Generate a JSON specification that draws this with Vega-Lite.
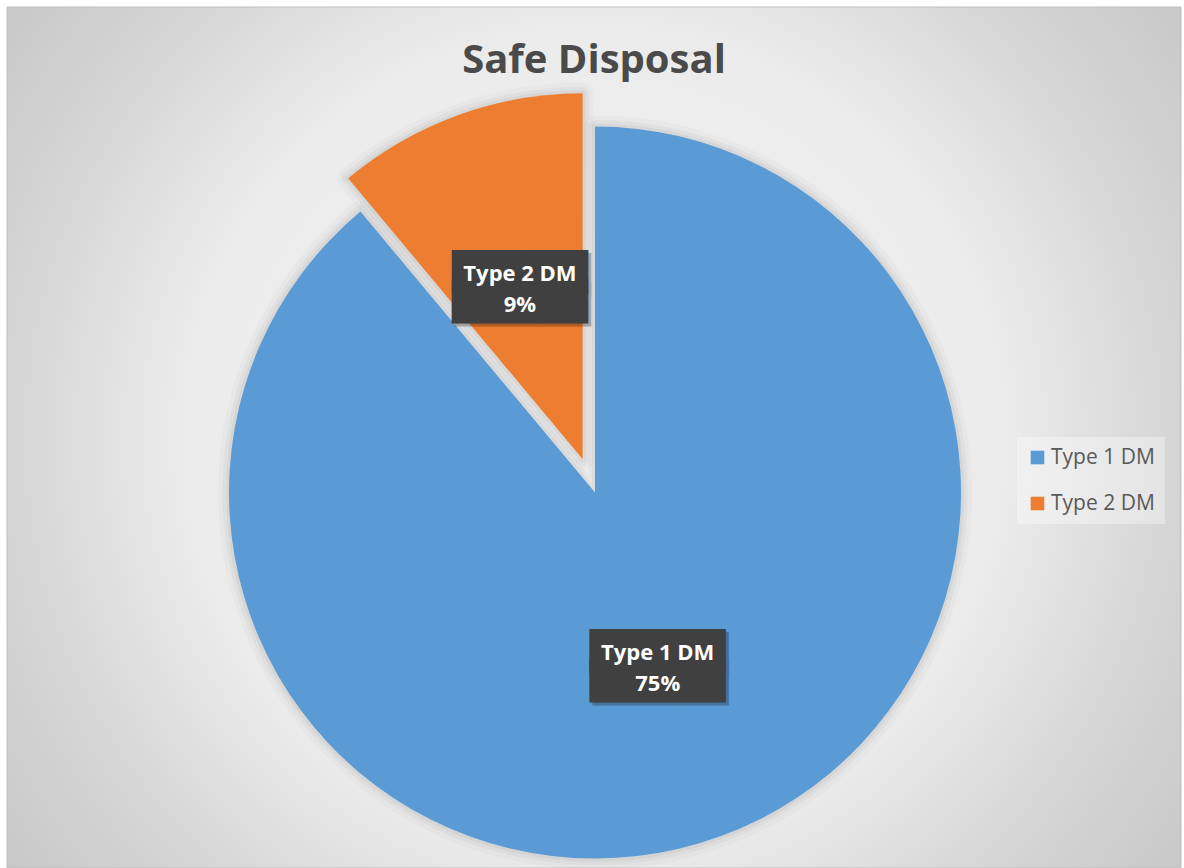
{
  "$schema": "https://vega.github.io/schema/vega-lite/v6.json",
  "width": 1174,
  "height": 861,
  "autosize": "none",
  "padding": {"left": 7, "top": 7, "right": 3, "bottom": 0},
  "background": "#ffffff",
  "config": {"view": {"stroke": null}},
  "title": {
    "text": "Safe Disposal",
    "font": "Open Sans",
    "fontSize": 40,
    "fontWeight": "bold",
    "color": "#4a4a4a",
    "anchor": "middle",
    "baseline": "alphabetic",
    "offset": -66,
    "dy": 40
  },
  "data": {
    "values": [
      {"type": "Type 1 DM", "value": 0.747},
      {"type": "Type 2 DM", "value": 0.093}
    ]
  },
  "transform": [{"calculate": "format(datum.value, '.0%')", "as": "pct"}],
  "layer": [
    {
      "data": {"values": [{}]},
      "transform": [],
      "mark": {
        "type": "rect",
        "color": {
          "gradient": "radial",
          "x1": 0.5, "y1": 0.5, "r1": 0,
          "x2": 0.5, "y2": 0.5, "r2": 0.62,
          "stops": [
            {"offset": 0, "color": "#f3f3f3"},
            {"offset": 0.566, "color": "#ebebeb"},
            {"offset": 0.8, "color": "#d5d5d5"},
            {"offset": 1, "color": "#c8c8c8"}
          ]
        },
        "stroke": "#bfbfbf",
        "strokeWidth": 1
      },
      "encoding": {}
    },
    {
      "mark": {
        "type": "arc", "radius": 366, "fillOpacity": 0, "stroke": "#000000", "strokeOpacity": 0.02, "strokeWidth": 22, "strokeJoin": "round",
        "xOffset": {"expr": "datum.type === 'Type 2 DM' ? -11.3 : 1"},
        "yOffset": {"expr": "datum.type === 'Type 2 DM' ? 21.8 : 55"}
      },
      "encoding": {
        "theta": {"field": "value", "type": "quantitative", "stack": true},
        "order": {"field": "type", "type": "ordinal"},
        "detail": {"field": "type", "type": "nominal"}
      }
    },
    {
      "mark": {
        "type": "arc", "radius": 366, "fillOpacity": 0, "stroke": "#000000", "strokeOpacity": 0.03, "strokeWidth": 13, "strokeJoin": "round",
        "xOffset": {"expr": "datum.type === 'Type 2 DM' ? -11.3 : 1"},
        "yOffset": {"expr": "datum.type === 'Type 2 DM' ? 21.8 : 55"}
      },
      "encoding": {
        "theta": {"field": "value", "type": "quantitative", "stack": true},
        "order": {"field": "type", "type": "ordinal"},
        "detail": {"field": "type", "type": "nominal"}
      }
    },
    {
      "mark": {
        "type": "arc", "radius": 366, "fillOpacity": 0, "stroke": "#000000", "strokeOpacity": 0.04, "strokeWidth": 6, "strokeJoin": "round",
        "xOffset": {"expr": "datum.type === 'Type 2 DM' ? -11.3 : 1"},
        "yOffset": {"expr": "datum.type === 'Type 2 DM' ? 21.8 : 55"}
      },
      "encoding": {
        "theta": {"field": "value", "type": "quantitative", "stack": true},
        "order": {"field": "type", "type": "ordinal"},
        "detail": {"field": "type", "type": "nominal"}
      }
    },
    {
      "mark": {
        "type": "arc", "radius": 366,
        "xOffset": {"expr": "datum.type === 'Type 2 DM' ? -11.3 : 1"},
        "yOffset": {"expr": "datum.type === 'Type 2 DM' ? 21.8 : 55"}
      },
      "encoding": {
        "theta": {"field": "value", "type": "quantitative", "stack": true},
        "order": {"field": "type", "type": "ordinal"},
        "color": {
          "field": "type", "type": "nominal",
          "scale": {"domain": ["Type 1 DM", "Type 2 DM"], "range": ["#5b9bd5", "#ed7d31"]},
          "legend": {
            "orient": "none", "legendX": 1010, "legendY": 430, "title": null,
            "symbolType": "square", "symbolSize": 185, "symbolStrokeWidth": 0,
            "labelFontSize": 21, "labelFont": "Open Sans", "labelColor": "#595959",
            "padding": 10, "rowPadding": 24, "labelOffset": 3,
            "fillColor": "rgba(255,255,255,0.35)"
          }
        }
      }
    },
    {
      "mark": {
        "type": "text", "radius": 184, "text": ["██████", "██████"], "font": "DejaVu Sans Mono", "fontSize": 37.6, "lineHeight": 29.2,
        "align": "center", "baseline": "middle", "color": "#000000", "opacity": 0.25, "dx": 3, "dy": -9.5,
        "xOffset": {"expr": "datum.type === 'Type 2 DM' ? -11.3 : 1"},
        "yOffset": {"expr": "datum.type === 'Type 2 DM' ? 21.8 : 55"}
      },
      "encoding": {
        "theta": {"field": "value", "type": "quantitative", "stack": true},
        "order": {"field": "type", "type": "ordinal"},
        "detail": {"field": "type", "type": "nominal"}
      }
    },
    {
      "mark": {
        "type": "text", "radius": 184, "text": ["██████", "██████"], "font": "DejaVu Sans Mono", "fontSize": 37.6, "lineHeight": 29.2,
        "align": "center", "baseline": "middle", "color": "#404040", "dy": -12.5,
        "xOffset": {"expr": "datum.type === 'Type 2 DM' ? -11.3 : 1"},
        "yOffset": {"expr": "datum.type === 'Type 2 DM' ? 21.8 : 55"}
      },
      "encoding": {
        "theta": {"field": "value", "type": "quantitative", "stack": true},
        "order": {"field": "type", "type": "ordinal"},
        "detail": {"field": "type", "type": "nominal"}
      }
    },
    {
      "mark": {
        "type": "text", "radius": 184, "font": "Open Sans", "fontSize": 22, "fontWeight": "bold",
        "align": "center", "baseline": "alphabetic", "color": "#ffffff", "dy": -5.6,
        "xOffset": {"expr": "datum.type === 'Type 2 DM' ? -11.3 : 1"},
        "yOffset": {"expr": "datum.type === 'Type 2 DM' ? 21.8 : 55"}
      },
      "encoding": {
        "theta": {"field": "value", "type": "quantitative", "stack": true},
        "order": {"field": "type", "type": "ordinal"},
        "detail": {"field": "type", "type": "nominal"},
        "text": {"field": "type", "type": "nominal"}
      }
    },
    {
      "mark": {
        "type": "text", "radius": 184, "font": "Open Sans", "fontSize": 22, "fontWeight": "bold",
        "align": "center", "baseline": "alphabetic", "color": "#ffffff", "dy": 25.8,
        "xOffset": {"expr": "datum.type === 'Type 2 DM' ? -11.3 : 1"},
        "yOffset": {"expr": "datum.type === 'Type 2 DM' ? 21.8 : 55"}
      },
      "encoding": {
        "theta": {"field": "value", "type": "quantitative", "stack": true},
        "order": {"field": "type", "type": "ordinal"},
        "detail": {"field": "type", "type": "nominal"},
        "text": {"field": "pct", "type": "nominal"}
      }
    }
  ]
}
